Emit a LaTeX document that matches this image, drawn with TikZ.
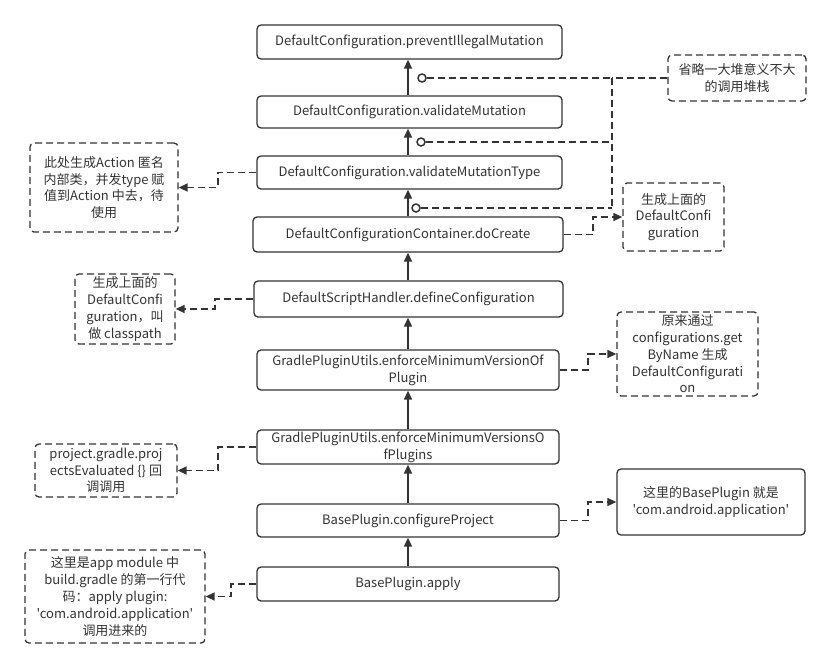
\documentclass[tikz,border=0pt]{standalone}
\usepackage{fontspec}
\setmainfont{Noto Sans CJK SC}[Ligatures=TeXOff]
\usetikzlibrary{arrows.meta}
\definecolor{ink}{HTML}{333333}
\begin{document}
\begin{tikzpicture}[x=1pt,y=-1pt,
  font=\fontsize{13}{16.8}\selectfont,
  every node/.style={text=ink},
  callbox/.style={draw=ink,line width=1.3pt,rounded corners=4pt,align=center,inner sep=0pt},
  notebox/.style={draw=ink,line width=1.3pt,rounded corners=4pt,align=center,inner sep=0pt,dash pattern=on 7pt off 4pt},
  solidnote/.style={draw=ink,line width=1.3pt,rounded corners=4pt,align=center,inner sep=0pt},
  callarrow/.style={draw=ink,line width=1.5pt,-{Triangle[length=9pt,width=8pt]}},
  notearrow/.style={draw=ink,line width=1.5pt,dash pattern=on 7pt off 4pt,-{Triangle[length=9pt,width=8pt]}},
  noteline/.style={draw=ink,line width=1.5pt,dash pattern=on 7pt off 4pt},
  ring/.style={circle,draw=ink,fill=white,line width=1.5pt,minimum size=8pt,inner sep=0pt}]
\useasboundingbox (0,0) rectangle (833,670);

% main call chain
\node[callbox,minimum width=305pt,minimum height=34pt] (b1) at (409.5,42) {DefaultConfiguration.preventIllegalMutation};
\node[callbox,minimum width=305pt,minimum height=32pt] (b2) at (409.5,112) {DefaultConfiguration.validateMutation};
\node[callbox,minimum width=305pt,minimum height=33pt] (b3) at (409.5,172.5) {DefaultConfiguration.validateMutationType};
\node[callbox,minimum width=310pt,minimum height=35pt] (b4) at (408,234.5) {DefaultConfigurationContainer.doCreate};
\node[callbox,minimum width=309pt,minimum height=36pt] (b5) at (408.5,299) {DefaultScriptHandler.defineConfiguration};
\node[callbox,minimum width=302pt,minimum height=40pt] (b6) at (408,370) {GradlePluginUtils.enforceMinimumVersionOf\\Plugin};
\node[callbox,minimum width=302pt,minimum height=34pt] (b7) at (408,447) {GradlePluginUtils.enforceMinimumVersionsO\\fPlugins};
\node[callbox,minimum width=302pt,minimum height=33pt] (b8) at (408,520.5) {BasePlugin.configureProject};
\node[callbox,minimum width=302pt,minimum height=34pt] (b9) at (408,584) {BasePlugin.apply};

\foreach \lo/\hi in {b2/b1,b3/b2,b4/b3,b5/b4,b6/b5,b7/b6,b8/b7,b9/b8}
  \draw[callarrow] (\lo.north -| 408,0) -- (\hi.south -| 408,0);

% notes
\node[notebox,minimum width=148pt,minimum height=89pt] (n1) at (104,187.5) {此处生成Action 匿名\\内部类，并发type 赋\\值到Action 中去，待\\使用};
\node[notebox,minimum width=100pt,minimum height=70pt] (n2) at (125,309) {生成上面的\\DefaultConfi\\guration，叫\\做 classpath};
\node[notebox,minimum width=138pt,minimum height=46pt] (n3) at (737,78) {省略一大堆意义不大\\的调用堆栈};
\node[notebox,minimum width=101pt,minimum height=68pt] (n4) at (673.5,217) {生成上面的\\DefaultConfi\\guration};
\node[notebox,minimum width=141pt,minimum height=84pt] (n5) at (687.5,354) {原来通过\\configurations.get\\ByName 生成\\DefaultConfigurati\\on};
\node[notebox,minimum width=142pt,minimum height=53pt] (n6) at (106,470.5) {project.gradle.proj\\ectsEvaluated \{\} 回\\调调用};
\node[solidnote,minimum width=188pt,minimum height=66pt] (n7) at (711,502) {这里的BasePlugin 就是\\'com.android.application'};
\node[notebox,minimum width=180pt,minimum height=93pt] (n8) at (115,596.5) {这里是app module 中\\build.gradle 的第一行代\\码：apply plugin:\\'com.android.application'\\调用进来的};

% "omitted stack" markers
\coordinate (j1) at (612,78);
\coordinate (j2) at (612,142);
\coordinate (j3) at (612,208);
\draw[noteline] (j1) -- (j3);
\draw[noteline] (n3.west) -- (j1);
\node[ring] (c1) at (422,78) {};
\node[ring] (c2) at (421,142) {};
\node[ring] (c3) at (416,208) {};
\draw[noteline] (c1.east) -- (j1);
\draw[noteline] (c2.east) -- (j2);
\draw[noteline] (c3.east) -- (j3);

% note connectors
\draw[notearrow] (b3.west) -- (218,172.5) |- (n1.east);
\draw[notearrow] (b5.west) -- (215,299) |- (n2.east);
\draw[notearrow] (b4.east) -- (593,234.5) |- (n4.west);
\draw[notearrow] (b6.east) -- (588,370) |- (n5.west);
\draw[notearrow] (b7.west) -- (218,447) |- (n6.east);
\draw[notearrow] (b8.east) -- (588,520.5) |- (n7.west);
\draw[notearrow] (b9.west) -- (231,584) |- (n8.east);
\end{tikzpicture}
\end{document}
